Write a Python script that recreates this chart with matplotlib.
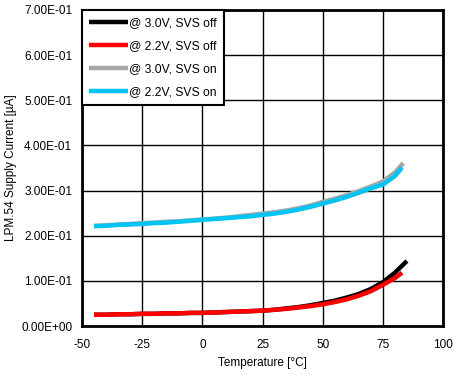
import matplotlib
matplotlib.use("Agg")
import matplotlib.pyplot as plt
from matplotlib.ticker import FuncFormatter, MultipleLocator

plt.rcParams['font.family'] = ['Liberation Sans', 'DejaVu Sans']
plt.rcParams['axes.unicode_minus'] = False

temp_off_30 = [-45, -40, -35, -30, -25, -20, -15, -10, -5, 0, 5, 10, 15, 20, 25, 30, 35, 40, 45, 50, 55, 60, 65, 70, 75, 80, 85]
cur_off_30 = [0.025, 0.025, 0.026, 0.026, 0.027, 0.027, 0.028, 0.028, 0.029, 0.029, 0.030, 0.031, 0.032, 0.033, 0.034, 0.036, 0.039, 0.042, 0.046, 0.051, 0.056, 0.063, 0.071, 0.082, 0.097, 0.118, 0.144]

temp_off_22 = [-45, -40, -35, -30, -25, -20, -15, -10, -5, 0, 5, 10, 15, 20, 25, 30, 35, 40, 45, 50, 55, 60, 65, 70, 75, 80, 83]
cur_off_22 = [0.025, 0.025, 0.026, 0.026, 0.027, 0.027, 0.028, 0.028, 0.029, 0.029, 0.030, 0.031, 0.032, 0.033, 0.034, 0.036, 0.038, 0.041, 0.044, 0.048, 0.053, 0.059, 0.067, 0.077, 0.091, 0.106, 0.118]

temp_on_30 = [-45, -40, -35, -30, -25, -20, -15, -10, -5, 0, 5, 10, 15, 20, 25, 30, 35, 40, 45, 50, 55, 60, 65, 70, 75, 80, 83.5]
cur_on_30 = [0.222, 0.223, 0.225, 0.226, 0.228, 0.229, 0.231, 0.232, 0.234, 0.236, 0.238, 0.240, 0.243, 0.246, 0.249, 0.252, 0.256, 0.261, 0.267, 0.275, 0.282, 0.290, 0.299, 0.309, 0.320, 0.340, 0.361]

temp_on_22 = [-45, -40, -35, -30, -25, -20, -15, -10, -5, 0, 5, 10, 15, 20, 25, 30, 35, 40, 45, 50, 55, 60, 65, 70, 75, 80, 83]
cur_on_22 = [0.221, 0.222, 0.224, 0.225, 0.226, 0.228, 0.229, 0.231, 0.233, 0.235, 0.237, 0.239, 0.241, 0.243, 0.246, 0.249, 0.253, 0.258, 0.264, 0.271, 0.278, 0.286, 0.295, 0.305, 0.313, 0.332, 0.351]

labels = ['@ 3.0V, SVS off', '@ 2.2V, SVS off', '@ 3.0V, SVS on', '@ 2.2V, SVS on']
colors = ['#000000', '#ff0000', '#a6a6a6', '#00c4f4']

fig = plt.figure(figsize=(4.57, 3.87), dpi=100)
ax = fig.add_axes([0.1794, 0.1576, 0.79, 0.8166])

series = [(temp_off_30, cur_off_30), (temp_off_22, cur_off_22), (temp_on_30, cur_on_30), (temp_on_22, cur_on_22)]
for (t, c), lab, col in zip(series, labels, colors):
    ax.plot(t, c, color=col, lw=3.2, label=lab, solid_capstyle='butt')

ax.set_xlim(-50, 100)
ax.set_ylim(0, 0.7)
ax.xaxis.set_major_locator(MultipleLocator(25))
ax.yaxis.set_major_locator(MultipleLocator(0.1))
ax.yaxis.set_major_formatter(FuncFormatter(lambda v, p: f"{v:.2E}"))
ax.grid(True, color='black', lw=1.0)
ax.set_axisbelow(True)
ax.tick_params(length=0, labelsize=8.5)
ax.tick_params(axis='x', pad=9)
ax.tick_params(axis='y', pad=7)
for s in ax.spines.values():
    s.set_linewidth(2)
    s.set_color('black')

ax.set_xlabel('Temperature [°C]', fontsize=8.5, labelpad=5)
ax.set_ylabel('LPM.54 Supply Current [µA]', fontsize=8.5, labelpad=3)

leg = ax.legend(loc='upper left', borderaxespad=0, fontsize=8.7, handlelength=3.2,
                handletextpad=0.1, labelspacing=0.9, fancybox=False, framealpha=1,
                borderpad=0.6)
leg.get_frame().set_edgecolor('black')
leg.get_frame().set_linewidth(1.5)

fig.savefig('out.png', dpi=100)
